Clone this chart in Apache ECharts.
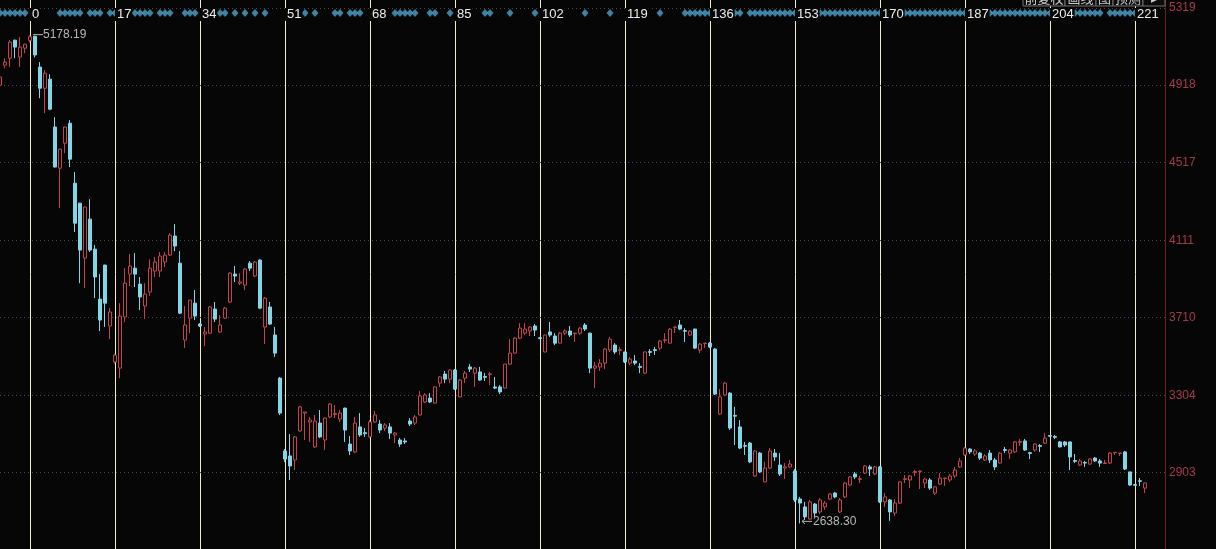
<!DOCTYPE html>
<html><head><meta charset="utf-8">
<script src="https://cdn.jsdelivr.net/npm/echarts@6/dist/echarts.min.js"></script>
<style>html,body{margin:0;padding:0;background:#060606;}#c{width:1216px;height:549px;}</style>
</head><body><div id="c"></div>
<script>
// candle indices run from firstIndex (-6) upward, one per trading day
const firstIndex = -6;
const slotCount = 234;

const openV = [
4918,5022,5058,5152,5064,5110,5150,5172,5012,4902,
4949,4700,4486,4616,4720,4408,4304,4018,4221,4065,
3805,3982,3665,3478,3446,3712,3935,3966,3883,3769,
3842,3951,3951,3998,4034,4133,3992,3592,3706,3784,
3675,3623,3628,3753,3634,3706,3790,3935,3888,3878,
3992,3925,4008,3660,3764,3618,3394,3015,2989,2968,
3119,3212,3166,3036,3160,3072,3192,3205,3181,3238,
3051,3010,3140,3110,3088,3166,3155,3134,3140,3098,
3072,3067,3171,3160,3202,3270,3290,3264,3368,3415,
3389,3436,3296,3394,3452,3420,3426,3402,3412,3348,
3348,3342,3467,3524,3602,3628,3639,3665,3604,3530,
3634,3613,3576,3628,3639,3625,3628,3670,3628,3446,
3452,3472,3540,3566,3538,3530,3472,3483,3455,3420,
3532,3542,3550,3590,3576,3658,3670,3641,3618,3649,
3540,3574,3576,3545,3207,3306,3316,3200,3140,3043,
3056,2885,3004,2854,2926,3004,2942,2926,2932,2911,
2765,2724,2661,2739,2698,2724,2765,2796,2698,2776,
2838,2895,2867,2900,2932,2895,2932,2750,2760,2692,
2744,2867,2864,2904,2908,2848,2864,2796,2843,2872,
2864,2885,2932,2994,3025,2999,3004,2968,3004,2968,
2952,3022,3004,3010,3060,3067,3006,3020,3043,3056,
3095,3090,3062,3062,3062,2965,2942,2955,2947,2978,
2963,2950,2952,3006,3002,3010,2906,2840,2860,2822];
const closeV = [
4960,5038,5142,5116,5116,5131,5170,5075,4902,4980,
4793,4492,4585,4700,4533,4200,4060,4284,4060,3920,
3696,3784,3738,3514,3717,3888,3977,3935,3816,3831,
3966,3998,4029,4034,4138,4081,3732,3670,3800,3717,
3665,3634,3764,3701,3670,3758,3940,3925,3894,3961,
3966,3998,3758,3810,3675,3524,3212,2973,2937,3088,
3244,3218,3176,3171,3088,3186,3259,3210,3212,3124,
3015,3160,3098,3105,3166,3202,3124,3150,3108,3108,
3051,3062,3155,3192,3301,3306,3270,3348,3400,3389,
3436,3337,3384,3420,3441,3446,3384,3398,3416,3342,
3322,3467,3524,3602,3654,3649,3660,3644,3600,3618,
3618,3576,3628,3639,3618,3628,3654,3649,3446,3457,
3472,3545,3597,3530,3542,3478,3493,3472,3450,3530,
3528,3538,3587,3594,3649,3660,3649,3638,3639,3550,
3571,3576,3556,3311,3296,3368,3134,3196,3030,3040,
2958,3015,2906,2926,3015,2984,2895,2932,2947,2760,
2744,2672,2750,2692,2760,2744,2791,2776,2760,2848,
2880,2880,2871,2937,2921,2932,2750,2776,2698,2744,
2854,2871,2885,2908,2911,2869,2822,2828,2874,2874,
2885,2916,2963,3030,3010,3015,2978,2989,2968,2932,
3004,3018,3020,3062,3064,3020,3002,3051,3039,3082,
3092,3086,3036,3046,2984,2961,2963,2952,2973,2963,
2952,2952,3004,3008,3004,2921,2838,2836,2857,2848];
const lowV = [
4902,5006,5012,5058,5012,5084,5140,5062,4850,4772,
4788,4490,4278,4564,4492,4154,3888,3862,4050,3810,
3639,3660,3597,3470,3394,3686,3873,3868,3748,3701,
3821,3920,3920,3972,4029,4055,3727,3550,3628,3696,
3660,3561,3623,3686,3628,3701,3784,3894,3878,3852,
3951,3920,3753,3571,3670,3504,3202,2958,2864,2916,
3114,3072,3062,3030,3082,3020,3186,3186,3166,3062,
2994,3004,3088,3088,3082,3160,3108,3119,3077,3056,
3036,3051,3145,3150,3200,3264,3264,3262,3348,3368,
3368,3332,3294,3368,3426,3348,3379,3379,3358,3337,
3311,3340,3462,3522,3597,3618,3613,3613,3596,3528,
3608,3566,3574,3618,3608,3582,3618,3639,3420,3342,
3431,3441,3530,3519,3514,3472,3462,3462,3420,3415,
3509,3514,3540,3576,3574,3628,3644,3582,3613,3545,
3524,3550,3550,3306,3202,3301,3124,3046,3025,2994,
2952,2880,2900,2852,2921,2963,2885,2869,2926,2750,
2638.30,2656,2656,2672,2687,2708,2760,2770,2692,2770,
2833,2869,2848,2895,2885,2890,2744,2724,2651,2677,
2739,2848,2822,2885,2817,2822,2812,2786,2838,2833,
2854,2874,2926,2989,2999,2989,2968,2963,2952,2916,
2950,3004,2973,3004,3041,3015,2973,3010,3010,3051,
3088,3077,3034,3036,2916,2952,2937,2932,2942,2958,
2932,2949,2947,2994,2989,2916,2833,2834,2833,2796];
const highV = [
4970,5058,5152,5155,5168,5133,5178.19,5176,5038,4996,
4975,4752,4587,4702,4736,4466,4306,4286,4325,4086,
3935,3984,3758,3520,3784,3966,4039,4044,3920,3888,
4012,4024,4050,4050,4148,4195,4055,3769,3800,3852,
3680,3660,3769,3790,3722,3764,3946,3977,3940,3966,
4003,4003,4013,3816,3790,3660,3400,3025,3103,3093,
3249,3218,3192,3202,3228,3188,3264,3254,3228,3240,
3093,3192,3212,3134,3176,3223,3176,3160,3160,3114,
3082,3082,3186,3202,3327,3316,3316,3350,3405,3431,
3438,3441,3389,3431,3467,3452,3452,3420,3426,3400,
3358,3469,3597,3608,3680,3680,3665,3675,3608,3620,
3686,3628,3634,3649,3665,3629,3660,3680,3630,3478,
3493,3550,3608,3576,3556,3532,3504,3514,3472,3532,
3545,3556,3592,3628,3654,3661,3696,3654,3644,3651,
3576,3577,3582,3550,3337,3374,3322,3244,3176,3062,
3062,3020,3010,2958,3030,3025,3004,2952,2968,2921,
2776,2750,2760,2744,2770,2755,2796,2802,2770,2854,
2885,2906,2885,2942,2942,2937,2937,2796,2765,2765,
2859,2890,2890,2916,2912,2874,2874,2833,2900,2875,
2895,2932,2978,3036,3030,3025,3010,2999,3020,2978,
3010,3036,3025,3067,3077,3077,3010,3056,3051,3108,
3098,3098,3067,3067,3064,2999,2973,2963,2978,2984,
2973,2968,3010,3009,3005,3015,2907,2842,2874,2850];

const xTicks = [0,17,34,51,68,85,102,119,136,153,170,187,204,221];
const yTicks = [2903,3304,3710,4111,4517,4918,5319];

// indices carrying a signal diamond in the top strip
const signalIdx = [-6,-5,-4,-3,-2,-1,6,7,8,9,10,12,13,14,16,17,18,19,20,21,22,23,24,26,27,28,31,32,33,
37,38,39,41,43,45,47,53,55,57,61,62,64,65,66,73,74,75,76,77,80,81,84,91,92,96,101,106,111,116,121,126,
131,132,133,134,135,136,137,138,139,140,141,142,
144,145,146,147,148,149,150,151,152,153,154,155,156,157,158,159,160,161,162,163,164,165,166,167,168,169,
170,171,172,173,174,175,176,177,178,179,180,181,182,183,184,185,186,187,188,189,190,191,192,193,194,195,
196,197,198,199,200,201,202,203,204,205,206,207,208,209,210,211,212,213,214,
216,217,218,219,220,221];
const signalLevel = 5294;

const annIdx = [0, 154];
const annVal = [5178.19, 2638.30];
const toolbarLabels = ['前复权','画线','图','预测','▸'];

const categories = Array.from({length: slotCount}, (_, k) => String(firstIndex + k));
const candleData = categories.map((c, k) => k < openV.length ? [openV[k], closeV[k], lowV[k], highV[k]] : '-');

const RED = '#c4444e', CYAN = '#84d6e6';
const chart = echarts.init(document.getElementById('c'), null, {renderer: 'canvas'});
chart.setOption({
  backgroundColor: '#060606',
  animation: false,
  grid: {left: 0, top: 0, width: (slotCount - 1) * 5, height: 549, containLabel: false},
  xAxis: {
    type: 'category', data: categories, position: 'top', boundaryGap: false, z: 10,
    axisLine: {show: false}, axisTick: {show: false}, splitLine: {show: false},
    axisLabel: {
      inside: true, margin: 8, color: '#ededed', fontSize: 13, fontFamily: 'Liberation Sans, Arial',
      align: 'left', backgroundColor: '#060606', padding: [0, 1, 0, 2],
      interval: function (i, v) { return xTicks.indexOf(Number(v)) >= 0; }
    }
  },
  yAxis: {
    type: 'value', position: 'right', min: 2505, max: 5361, scale: true,
    axisLine: {show: true, lineStyle: {color: '#6e1c1c', width: 1}},
    axisTick: {show: false, customValues: yTicks},
    splitLine: {show: false},
    axisLabel: {customValues: yTicks, color: '#a53c48', fontSize: 12, margin: 4,
      fontFamily: 'Liberation Sans, Arial', align: 'left',
      formatter: function (v) { return String(Math.round(v)); }}
  },
  series: [
    {
      type: 'line', data: [], z: 20, silent: true,
      markLine: {
        silent: true, symbol: ['none', 'none'], label: {show: false}, animation: false,
        data: xTicks.map(v => ({xAxis: String(v), lineStyle: {color: '#f1ecce', width: 1, type: 'solid'}}))
          .concat(yTicks.map(v => ({yAxis: v, lineStyle: {color: '#4a4a4a', width: 1, type: [1, 3]}})))
      }
    },
    {
      type: 'scatter', z: 2, silent: true, symbol: 'diamond', symbolSize: [7, 8],
      itemStyle: {color: '#4aa2cc'},
      data: signalIdx.map(i => [String(i), signalLevel])
    },
    {
      type: 'candlestick', z: 30, barWidth: 3, data: candleData,
      itemStyle: {color: '#060606', color0: CYAN, borderColor: RED, borderColor0: CYAN, borderWidth: 1}
    }
  ]
});

// annotations and toolbar, positioned through the chart's own scales
const g = [];
annIdx.forEach((idx, n) => {
  const p = chart.convertToPixel({gridIndex: 0}, [String(idx), annVal[n]]);
  const txt = annVal[n].toFixed(2);
  if (n === 0) {
    const y = p[1] - 0.5;
    g.push({type: 'line', shape: {x1: p[0] + 3, y1: y, x2: p[0] + 13, y2: y}, style: {stroke: '#b4b4b4', lineWidth: 1}, z: 50});
    g.push({type: 'text', x: p[0] + 13, y: y, style: {text: txt, fill: '#b8b8b8', font: '12px "Liberation Sans", Arial', verticalAlign: 'middle'}, z: 50});
  } else {
    const y = p[1] - 2;
    g.push({type: 'polyline', shape: {points: [[p[0] + 5, y - 2.5], [p[0] + 2, y], [p[0] + 5, y + 2.5]]}, style: {stroke: '#b4b4b4', lineWidth: 1, fill: null}, z: 50});
    g.push({type: 'line', shape: {x1: p[0] + 2, y1: y, x2: p[0] + 12, y2: y}, style: {stroke: '#b4b4b4', lineWidth: 1}, z: 50});
    g.push({type: 'text', x: p[0] + 13, y: y, style: {text: txt, fill: '#b8b8b8', font: '12px "Liberation Sans", Arial', verticalAlign: 'middle'}, z: 50});
  }
});
const boxEdges = [1023, 1065, 1096, 1113, 1143, 1165];
toolbarLabels.forEach((t, k) => {
  const x0 = boxEdges[k], x1 = boxEdges[k + 1];
  g.push({type: 'rect', shape: {x: x0, y: -16, width: x1 - x0, height: 22}, style: {fill: '#0c0c0c', stroke: '#707070', lineWidth: 1}, z: 60});
  g.push({type: 'text', x: (x0 + x1) / 2, y: 5, style: {text: t, fill: '#d0d0d0', font: '13px "Noto Sans CJK SC", sans-serif', align: 'center', verticalAlign: 'bottom'}, z: 61});
});
chart.setOption({graphic: g});
</script></body></html>
